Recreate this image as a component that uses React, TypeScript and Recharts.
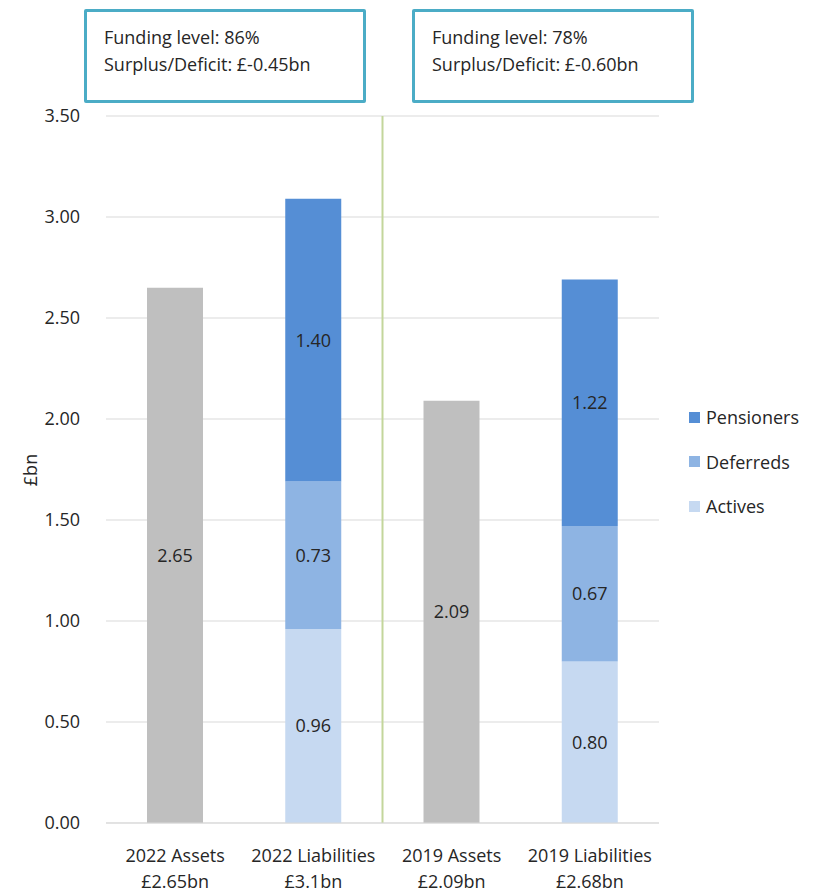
import React from 'react';
import {
  BarChart,
  Bar,
  XAxis,
  YAxis,
  CartesianGrid,
  LabelList,
  ReferenceLine,
} from 'recharts';

const CATEGORIES = ['2022 Assets', '2022 Liabilities', '2019 Assets', '2019 Liabilities'];
const SUBTITLES = ['£2.65bn', '£3.1bn', '£2.09bn', '£2.68bn'];
const ASSETS = [2.65, null, 2.09, null];
const ACTIVES = [null, 0.96, null, 0.8];
const DEFERREDS = [null, 0.73, null, 0.67];
const PENSIONERS = [null, 1.4, null, 1.22];
const Y_TICKS = [0, 0.5, 1, 1.5, 2, 2.5, 3, 3.5];

const FUNDING_LEVELS = ['86%', '78%'];
const SURPLUS = ['£-0.45bn', '£-0.60bn'];

const LEGEND_ITEMS = [
  { name: 'Pensioners', color: '#558ED5' },
  { name: 'Deferreds', color: '#8EB4E3' },
  { name: 'Actives', color: '#C6D9F1' },
];

const data = CATEGORIES.map((c, i) => ({
  name: c,
  assets: ASSETS[i],
  actives: ACTIVES[i],
  deferreds: DEFERREDS[i],
  pensioners: PENSIONERS[i],
}));

const FONT = '"Open Sans", "Noto Sans", sans-serif';
const TEXT = '#262626';
const FS = 18;

function fmt(v: any) {
  if (v == null) return '';
  return Number(v).toFixed(2);
}

function XTick(props: any) {
  const { x, y, payload, index } = props;
  return (
    <text x={x} y={y} textAnchor="middle" fontSize={FS} fill={TEXT} fontFamily={FONT}>
      <tspan x={x} dy={31}>{payload.value}</tspan>
      <tspan x={x} dy={26}>{SUBTITLES[index]}</tspan>
    </text>
  );
}

const labelStyle = { fontSize: FS, fill: TEXT, fontFamily: FONT };

export default function App() {
  return (
    <div style={{ position: 'relative', width: 816, height: 895, background: '#fff', fontFamily: FONT }}>
      <style>{`body{margin:0}`}</style>
      {FUNDING_LEVELS.map((f, i) => (
        <div
          key={i}
          style={{
            position: 'absolute',
            left: i === 0 ? 84 : 412,
            top: 9,
            width: 282,
            height: 94,
            border: '3px solid #4BACC6',
            borderRadius: 2,
            fontSize: FS,
            color: TEXT,
            lineHeight: '27px',
            padding: '12px 0 0 17px',
            boxSizing: 'border-box',
            background: '#fff',
            zIndex: 2,
          }}
        >
          <div>Funding level: {f}</div>
          <div>Surplus/Deficit: {SURPLUS[i]}</div>
        </div>
      ))}
      <div
        style={{
          position: 'absolute',
          left: 30,
          top: 470,
          transform: 'translate(-50%, -50%) rotate(-90deg)',
          fontSize: FS,
          color: TEXT,
        }}
      >
        £bn
      </div>
      <div
        style={{
          position: 'absolute',
          left: 689,
          top: 395,
          fontSize: FS,
          color: TEXT,
          zIndex: 2,
        }}
      >
        {LEGEND_ITEMS.map((it) => (
          <div key={it.name} style={{ display: 'flex', alignItems: 'center', height: 44.5 }}>
            <span style={{ width: 11, height: 11, background: it.color, marginRight: 6 }} />
            {it.name}
          </div>
        ))}
      </div>
      <BarChart
        width={816}
        height={895}
        data={data}
        margin={{ top: 116, right: 157, bottom: 0, left: 20 }}
        barSize={56}
      >
        <CartesianGrid vertical={false} stroke="#D9D9D9" />
        <XAxis
          dataKey="name"
          tick={<XTick />}
          tickLine={false}
          axisLine={{ stroke: '#D9D9D9' }}
          interval={0}
          height={72}
        />
        <YAxis
          width={86}
          domain={[0, 3.5]}
          ticks={Y_TICKS}
          tickFormatter={(v) => v.toFixed(2)}
          tick={{ fontSize: FS, fill: TEXT, fontFamily: FONT }}
          tickLine={false}
          axisLine={false}
          tickMargin={20}
        />
        <ReferenceLine x="2022 Liabilities" position="end" stroke="#C3D69B" strokeWidth={2} />
        <Bar dataKey="assets" stackId="a" fill="#BFBFBF" isAnimationActive={false}>
          <LabelList dataKey="assets" position="center" formatter={fmt} style={labelStyle} />
        </Bar>
        <Bar dataKey="actives" stackId="a" fill="#C6D9F1" isAnimationActive={false}>
          <LabelList dataKey="actives" position="center" formatter={fmt} style={labelStyle} />
        </Bar>
        <Bar dataKey="deferreds" stackId="a" fill="#8EB4E3" isAnimationActive={false}>
          <LabelList dataKey="deferreds" position="center" formatter={fmt} style={labelStyle} />
        </Bar>
        <Bar dataKey="pensioners" stackId="a" fill="#558ED5" isAnimationActive={false}>
          <LabelList dataKey="pensioners" position="center" formatter={fmt} style={labelStyle} />
        </Bar>
      </BarChart>
    </div>
  );
}
